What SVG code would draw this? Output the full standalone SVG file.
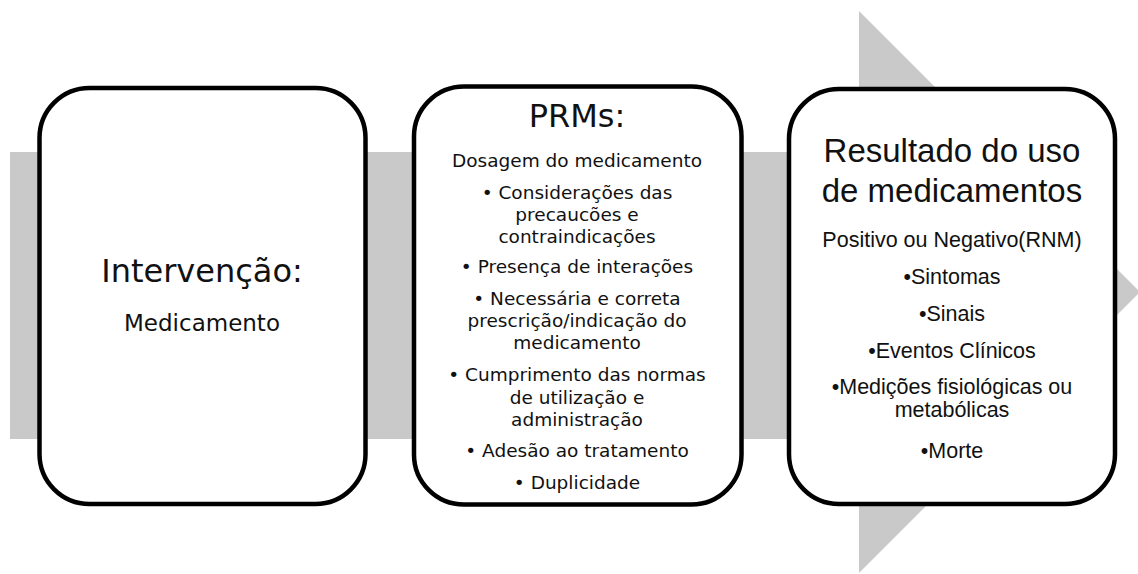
<svg xmlns="http://www.w3.org/2000/svg" width="1138" height="574" viewBox="0 0 1138 574">
<style>
.box{fill:#ffffff;stroke:#000000;stroke-width:4.5}
.t1{font-family:"DejaVu Sans",sans-serif;fill:#111;text-anchor:middle}
.t3{font-family:"Liberation Sans",Arial,sans-serif;fill:#111;text-anchor:middle}
.b2{font-size:18.5px}
.b3{font-size:21.5px}
</style>
<rect width="1138" height="574" fill="#ffffff"/>
<g id="arrow">
<polygon points="10,152 859,152 859,11 1140,292 859,573 859,439 10,439" fill="#c9c9c9"/>
</g>
<g id="connectors"></g>
<g id="node-intervencao">
<rect class="box" x="39.5" y="88" width="326" height="416" rx="50" ry="50"/>
<text class="t1" x="202" y="282" font-size="32">Intervenção:</text>
<text class="t1" x="202" y="331" font-size="23">Medicamento</text>
</g>
<g id="node-prms">
<rect class="box" x="414" y="86.5" width="327.5" height="418" rx="50" ry="50"/>
<text class="t1" x="577" y="127" font-size="32">PRMs:</text>
<text class="t1 b2" x="577" y="167">Dosagem do medicamento</text>
<text class="t1 b2" x="577" y="199">• Considerações das</text>
<text class="t1 b2" x="577" y="221">precaucões e</text>
<text class="t1 b2" x="577" y="243">contraindicações</text>
<text class="t1 b2" x="577" y="273">• Presença de interações</text>
<text class="t1 b2" x="577" y="305">• Necessária e correta</text>
<text class="t1 b2" x="577" y="327">prescrição/indicação do</text>
<text class="t1 b2" x="577" y="349">medicamento</text>
<text class="t1 b2" x="577" y="381">• Cumprimento das normas</text>
<text class="t1 b2" x="577" y="404">de utilização e</text>
<text class="t1 b2" x="577" y="426">administração</text>
<text class="t1 b2" x="577" y="457">• Adesão ao tratamento</text>
<text class="t1 b2" x="577" y="489">• Duplicidade</text>
</g>
<g id="node-resultado">
<rect class="box" x="789" y="89" width="326" height="415" rx="50" ry="50"/>
<text class="t3" x="952" y="162" font-size="33">Resultado do uso</text>
<text class="t3" x="952" y="202" font-size="33">de medicamentos</text>
<text class="t3 b3" x="952" y="247">Positivo ou Negativo(RNM)</text>
<text class="t3 b3" x="952" y="284">•Sintomas</text>
<text class="t3 b3" x="952" y="321">•Sinais</text>
<text class="t3 b3" x="952" y="358">•Eventos Clínicos</text>
<text class="t3 b3" x="952" y="394">•Medições fisiológicas ou</text>
<text class="t3 b3" x="952" y="417">metabólicas</text>
<text class="t3 b3" x="952" y="458">•Morte</text>
</g>
</svg>
